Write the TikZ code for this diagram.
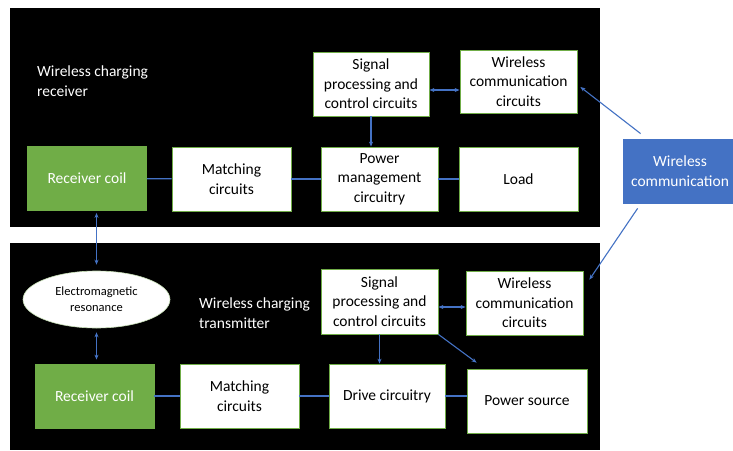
\documentclass[tikz,border=0pt]{standalone}
\usepackage{fontspec}
\setmainfont{Carlito}
\usetikzlibrary{shapes.geometric, arrows.meta}
\definecolor{offgreen}{HTML}{70AD47}
\definecolor{offblue}{HTML}{4472C4}

\begin{document}
\begin{tikzpicture}[x=1pt, y=-1pt, >={Stealth[length=5pt,width=4pt]},
    every node/.style={font=\fontsize{15.5}{19.5}\selectfont},
    block/.style={draw=offgreen, line width=0.8pt, fill=white, align=center, inner sep=2pt},
    coil/.style={block, fill=offgreen, text=white, minimum width=119pt, minimum height=64pt},
    link/.style={draw=offblue, line width=1.1pt},
    label/.style={text=white, align=left, anchor=west, inner sep=0pt}]
    \useasboundingbox (0,0) rectangle (733,450);
    \fill[white] (0,0) rectangle (733,450);

    % Paineis pretos
    \fill[black] (10,8) rectangle (600,227);
    \fill[black] (10,243) rectangle (600,450);

    % Receptor
    \node[label] (recvtxt) at (37,81) {Wireless charging\\receiver};
    \node[block, minimum width=116pt, minimum height=64pt] (sigR) at (371,84) {Signal\\processing and\\control circuits};
    \node[block, minimum width=117pt, minimum height=63pt] (wccR) at (518.5,81.5) {Wireless\\communication\\circuits};
    \node[coil] (coilR) at (87,178.5) {Receiver coil};
    \node[block, minimum width=119pt, minimum height=64pt] (matchR) at (231.5,179) {Matching\\circuits};
    \node[block, minimum width=117pt, minimum height=64pt] (pmR) at (379.5,179) {Power\\management\\circuitry};
    \node[block, minimum width=119pt, minimum height=64pt] (loadR) at (518.5,179) {Load};

    % Comunicacao sem fio
    \node[block, draw=offblue, fill=offblue, text=white, minimum width=114pt, minimum height=64pt] (wcom) at (680,171) {Wireless\\communication};

    % Transmissor
    \node[ellipse, draw=offgreen!40, fill=white, line width=0.6pt, minimum width=147pt, minimum height=57pt, inner sep=0pt, align=center,
          font=\fontsize{12.5}{16}\selectfont] (em) at (96.5,299.5) {Electromagnetic\\resonance};
    \node[label] (transtxt) at (199,313) {Wireless charging\\transmitter};
    \node[block, minimum width=117pt, minimum height=65pt] (sigT) at (379.5,301.5) {Signal\\processing and\\control circuits};
    \node[block, minimum width=117pt, minimum height=64pt] (wccT) at (524.5,303) {Wireless\\communication\\circuits};
    \node[coil] (coilT) at (94.5,396) {Receiver coil};
    \node[block, minimum width=119pt, minimum height=64pt] (matchT) at (239.5,396) {Matching\\circuits};
    \node[block, minimum width=116pt, minimum height=64pt] (drive) at (387,396) {Drive circuitry};
    \node[block, minimum width=120pt, minimum height=64pt] (power) at (527,401) {Power source};

    % Ligacoes do receptor
    \draw[link, <->] ([yshift=-6pt]sigR.east) -- ([yshift=-6pt]sigR.east -| wccR.west);
    \draw[link, ->] (sigR.south) -- (sigR.south |- pmR.north);
    \draw[link] (coilR) -- (matchR);
    \draw[link] (matchR) -- (pmR);
    \draw[link] (pmR) -- (loadR);

    % Ligacoes da comunicacao
    \draw[link, ->] ([xshift=18pt,yshift=5pt]wcom.north west) -- ([xshift=3pt,yshift=-5.5pt]wccR.east);
    \draw[link, ->] ([xshift=15pt,yshift=-5pt]wcom.south west) -- ([xshift=6pt,yshift=-9pt]wccT.north east);

    % Ressonancia
    \draw[link, <->, shorten <=2pt, shorten >=6pt] (em.north |- coilR.south) -- (em.north);
    \draw[link, <->, shorten <=4pt, shorten >=4pt] (em.south) -- (em.south |- coilT.north);

    % Ligacoes do transmissor
    \draw[link, <->] ([yshift=-5.5pt]sigT.east) -- ([yshift=-5.5pt]sigT.east -| wccT.west);
    \draw[link, ->] (sigT.south) -- (sigT.south |- drive.north);
    \draw[link, ->] (sigT.south east) -- ([xshift=10pt,yshift=6pt]power.north west);
    \draw[link] (coilT) -- (matchT);
    \draw[link] (matchT) -- (drive);
    \draw[link] (drive.east) -- (drive.east -| power.west);
\end{tikzpicture}
\end{document}
